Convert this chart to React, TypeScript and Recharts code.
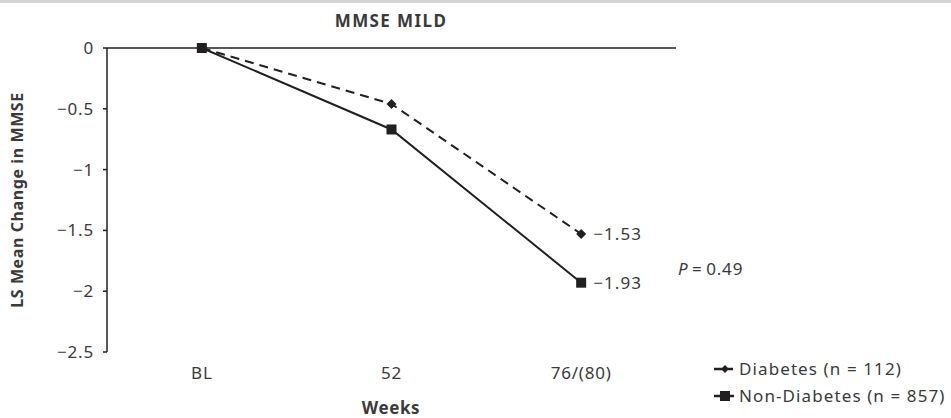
import * as React from "react"
import { LineChart, Line, XAxis, YAxis, LabelList } from "recharts"

// values
const weeks = ["BL", "52", "76/(80)"]
const diabetes = [0, -0.46, -1.53]
const nonDiabetes = [0, -0.67, -1.93]
const yTicks = [0, -0.5, -1, -1.5, -2, -2.5]
const centerTicks = [0.5, 1.5, 2.5]
const boundaryTicks = [0, 1, 2, 3]

const INK = "#231f20"
const TEXT = "#3a3a3a"
const FONT = "'Noto Sans', 'Open Sans', sans-serif"

const data = weeks.map((w, i) => ({
  x: i + 0.5,
  week: w,
  diabetes: diabetes[i],
  nonDiabetes: nonDiabetes[i],
}))

const minus = (v: number | string) => String(v).replace("-", "\u2212")

const tickStyle = { fill: TEXT, fontSize: 17, fontFamily: FONT, letterSpacing: 0.8 }

function Diamond(props: any) {
  const { cx, cy, index } = props
  if (cx == null || cy == null) return <g key={index} />
  const r = 5
  return (
    <path
      key={index}
      d={`M${cx},${cy - r}L${cx + r},${cy}L${cx},${cy + r}L${cx - r},${cy}Z`}
      fill={INK}
    />
  )
}

function Square(props: any) {
  const { cx, cy, index } = props
  if (cx == null || cy == null) return <g key={index} />
  const s = 10
  return <rect key={index} x={cx - s / 2} y={cy - s / 2} width={s} height={s} fill={INK} />
}

function EndLabel(props: any) {
  const { x, y, value, index } = props
  if (index !== weeks.length - 1) return null
  return (
    <text
      x={x + 12}
      y={y}
      dy="0.35em"
      fontSize={17}
      fill={TEXT}
      fontFamily={FONT}
      letterSpacing={1.1}
    >
      {minus(value)}
    </text>
  )
}

function LegendRow({ kind, text }: { kind: "diamond" | "square"; text: string }) {
  return (
    <div style={{ display: "flex", alignItems: "center", height: 27 }}>
      <svg width={22} height={12} style={{ marginRight: 3 }}>
        {kind === "diamond" ? (
          <>
            <line x1={0} y1={6} x2={9} y2={6} stroke={INK} strokeWidth={2.5} />
            <path d="M11,2L15,6L11,10L7,6Z" fill={INK} />
            <line x1={14} y1={6} x2={19} y2={6} stroke={INK} strokeWidth={2.5} />
          </>
        ) : (
          <>
            <line x1={0} y1={6} x2={20} y2={6} stroke={INK} strokeWidth={2.5} />
            <rect x={6} y={1} width={10} height={10} fill={INK} />
          </>
        )}
      </svg>
      <span>{text}</span>
    </div>
  )
}

export default function App() {
  return (
    <div
      style={{
        position: "absolute",
        left: 0,
        top: 0,
        width: 951,
        height: 418,
        background: "#fff",
        fontFamily: FONT,
        color: TEXT,
        borderTop: "3px solid #d4d4d4",
        boxSizing: "border-box",
      }}
    >
      <LineChart
        width={951}
        height={415}
        data={data}
        margin={{ top: 40, right: 275, bottom: 26, left: 47 }}
        style={{ position: "absolute", left: 0, top: 0 }}
      >
        <XAxis
          xAxisId="top"
          orientation="top"
          type="number"
          dataKey="x"
          domain={[0, 3]}
          ticks={boundaryTicks}
          tick={false}
          tickSize={3}
          height={5}
          stroke={INK}
          strokeWidth={1.5}
        />
        <XAxis
          xAxisId="bottom"
          type="number"
          dataKey="x"
          domain={[0, 3]}
          ticks={centerTicks}
          tickFormatter={(v: number) => weeks[Math.floor(v)]}
          axisLine={false}
          tickLine={false}
          tickMargin={9}
          height={40}
          tick={tickStyle}
        />
        <YAxis
          type="number"
          domain={[-2.5, 0]}
          ticks={yTicks}
          tickFormatter={minus}
          tickSize={4}
          tickMargin={9}
          width={60}
          stroke={INK}
          strokeWidth={1.5}
          tick={tickStyle}
        />
        <Line
          xAxisId="bottom"
          dataKey="diabetes"
          type="linear"
          stroke={INK}
          strokeWidth={2}
          strokeDasharray="9 6"
          dot={Diamond}
          activeDot={false}
          isAnimationActive={false}
        >
          <LabelList dataKey="diabetes" content={EndLabel} />
        </Line>
        <Line
          xAxisId="bottom"
          dataKey="nonDiabetes"
          type="linear"
          stroke={INK}
          strokeWidth={2}
          dot={Square}
          activeDot={false}
          isAnimationActive={false}
        >
          <LabelList dataKey="nonDiabetes" content={EndLabel} />
        </Line>
      </LineChart>

      <div
        style={{
          position: "absolute",
          left: 391,
          top: 17,
          transform: "translate(-50%, -50%)",
          fontWeight: 700,
          fontSize: 17,
          letterSpacing: 1.4,
          whiteSpace: "nowrap",
        }}
      >
        MMSE MILD
      </div>
      <div
        style={{
          position: "absolute",
          left: 17,
          top: 197,
          transform: "translate(-50%, -50%) rotate(-90deg)",
          fontWeight: 700,
          fontSize: 16,
          letterSpacing: 0.6,
          whiteSpace: "nowrap",
        }}
      >
        LS Mean Change in MMSE
      </div>
      <div
        style={{
          position: "absolute",
          left: 391,
          top: 404,
          transform: "translate(-50%, -50%)",
          fontWeight: 700,
          fontSize: 17,
          letterSpacing: 0.6,
        }}
      >
        Weeks
      </div>
      <div
        style={{
          position: "absolute",
          left: 678,
          top: 265,
          transform: "translateY(-50%)",
          fontSize: 17,
          letterSpacing: 0.8,
          whiteSpace: "nowrap",
        }}
      >
        <i>P</i>{"\u2009=\u2009"}0.49
      </div>
      <div
        style={{
          position: "absolute",
          left: 714,
          top: 352,
          fontSize: 17,
          letterSpacing: 1.1,
          whiteSpace: "nowrap",
        }}
      >
        <LegendRow kind="diamond" text="Diabetes (n = 112)" />
        <LegendRow kind="square" text="Non-Diabetes (n = 857)" />
      </div>
    </div>
  )
}
